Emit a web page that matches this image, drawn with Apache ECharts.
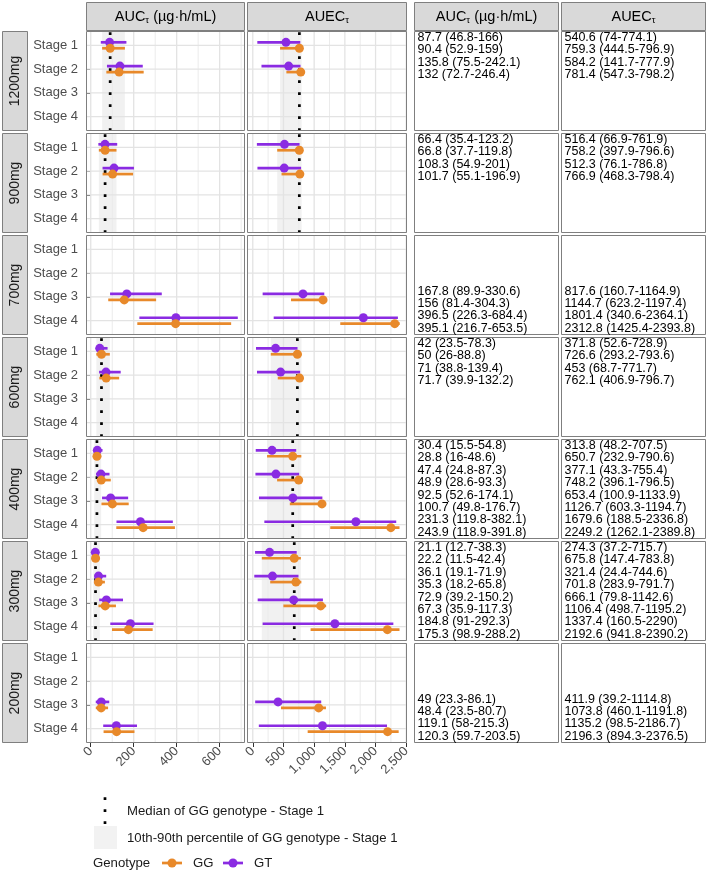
<!DOCTYPE html>
<html><head><meta charset="utf-8">
<script src="https://cdn.jsdelivr.net/npm/echarts@6/dist/echarts.min.js"></script>
<style>html,body{margin:0;padding:0;background:#fff}#c{width:708px;height:871px}</style>
</head><body><div id="c"></div>
<script>
// ---------------- data ----------------
const doses = ['1200mg','900mg','700mg','600mg','400mg','300mg','200mg'];
const stages = ['Stage 1','Stage 2','Stage 3','Stage 4'];
const aucTicks = [0,200,400,600];
const aucMinor = [100,300,500,700];
const auecTicks = [0,500,1000,1500,2000,2500];
const auecMinor = [250,750,1250,1750,2250];

// [dose, stage, median, p10, p90]
const aucGT = [
  ['1200mg',1,87.7,46.8,166],['1200mg',2,135.8,75.5,242.1],
  ['900mg',1,66.4,35.4,123.2],['900mg',2,108.3,54.9,201],
  ['700mg',3,167.8,89.9,330.6],['700mg',4,396.5,226.3,684.4],
  ['600mg',1,42,23.5,78.3],['600mg',2,71,38.8,139.4],
  ['400mg',1,30.4,15.5,54.8],['400mg',2,47.4,24.8,87.3],['400mg',3,92.5,52.6,174.1],['400mg',4,231.3,119.8,382.1],
  ['300mg',1,21.1,12.7,38.3],['300mg',2,36.1,19.1,71.9],['300mg',3,72.9,39.2,150.2],['300mg',4,184.8,91,292.3],
  ['200mg',3,49,23.3,86.1],['200mg',4,119.1,58,215.3]
];
const aucGG = [
  ['1200mg',1,90.4,52.9,159],['1200mg',2,132,72.7,246.4],
  ['900mg',1,66.8,37.7,119.8],['900mg',2,101.7,55.1,196.9],
  ['700mg',3,156,81.4,304.3],['700mg',4,395.1,216.7,653.5],
  ['600mg',1,50,26,88.8],['600mg',2,71.7,39.9,132.2],
  ['400mg',1,28.8,16,48.6],['400mg',2,48.9,28.6,93.3],['400mg',3,100.7,49.8,176.7],['400mg',4,243.9,118.9,391.8],
  ['300mg',1,22.2,11.5,42.4],['300mg',2,35.3,18.2,65.8],['300mg',3,67.3,35.9,117.3],['300mg',4,175.3,98.9,288.2],
  ['200mg',3,48.4,23.5,80.7],['200mg',4,120.3,59.7,203.5]
];
const auecGT = [
  ['1200mg',1,540.6,74,774.1],['1200mg',2,584.2,141.7,777.9],
  ['900mg',1,516.4,66.9,761.9],['900mg',2,512.3,76.1,786.8],
  ['700mg',3,817.6,160.7,1164.9],['700mg',4,1801.4,340.6,2364.1],
  ['600mg',1,371.8,52.6,728.9],['600mg',2,453,68.7,771.7],
  ['400mg',1,313.8,48.2,707.5],['400mg',2,377.1,43.3,755.4],['400mg',3,653.4,100.9,1133.9],['400mg',4,1679.6,188.5,2336.8],
  ['300mg',1,274.3,37.2,715.7],['300mg',2,321.4,24.4,744.6],['300mg',3,666.1,79.8,1142.6],['300mg',4,1337.4,160.5,2290],
  ['200mg',3,411.9,39.2,1114.8],['200mg',4,1135.2,98.5,2186.7]
];
const auecGG = [
  ['1200mg',1,759.3,444.5,796.9],['1200mg',2,781.4,547.3,798.2],
  ['900mg',1,758.2,397.9,796.6],['900mg',2,766.9,468.3,798.4],
  ['700mg',3,1144.7,623.2,1197.4],['700mg',4,2312.8,1425.4,2393.8],
  ['600mg',1,726.6,293.2,793.6],['600mg',2,762.1,406.9,796.7],
  ['400mg',1,650.7,232.9,790.6],['400mg',2,748.2,396.1,796.5],['400mg',3,1126.7,603.3,1194.7],['400mg',4,2249.2,1262.1,2389.8],
  ['300mg',1,675.8,147.4,783.8],['300mg',2,701.8,283.9,791.7],['300mg',3,1106.4,498.7,1195.2],['300mg',4,2192.6,941.8,2390.2],
  ['200mg',3,1073.8,460.1,1191.8],['200mg',4,2196.3,894.3,2376.5]
];

// ---------------- layout / style ----------------
const FONT = '"Liberation Sans", Arial, Helvetica, sans-serif';
const COLORS = {GG:'#E8892A', GT:'#8A2BE2'};
const BORDER = '#7F7F7F', STRIP = '#D9D9D9';
const colLeft = [86, 247], colW = [159, 160];
const tabLeft = [414, 561], tabW = [145, 145];
const rowTop0 = 31, rowStep = 102, rowH = 100;
const Y_MIN = 0.4, Y_MAX = 4.6, DODGE = 0.125;
const fmt = v => String(v).replace(/\B(?=(\d{3})+(?!\d))/g, ',');

const metrics = [
  {gt:aucGT, gg:aucGG, min:-22.1, max:718.0, ticks:aucTicks, minor:aucMinor,
   title:'{n|AUC}{s|τ}{n| (µg·h/mL)}'},
  {gt:auecGT, gg:auecGG, min:-94.07, max:2512.27, ticks:auecTicks, minor:auecMinor,
   title:'{n|AUEC}{s|τ}'}
];

const grids = [], xAxes = [], yAxes = [], series = [];

function segSeries(gi, z, data, styleFn) {
  return {type:'custom', xAxisIndex:gi, yAxisIndex:gi, z:z, silent:true, clip:false,
    data:data, encode:{x:[0,2], y:[1,3]},
    renderItem:(p, api) => {
      const a = api.coord([api.value(0), api.value(1)]);
      const b = api.coord([api.value(2), api.value(3)]);
      return {type:'line', shape:{x1:a[0],y1:a[1],x2:b[0],y2:b[1]}, style:styleFn(api)};
    }};
}

doses.forEach((dose, r) => {
  const top = rowTop0 + r*rowStep;
  metrics.forEach((m, c) => {
    const gi = r*2 + c;
    const bottom = (r === doses.length-1);
    grids.push({left:colLeft[c], top:top, width:colW[c], height:rowH, show:true,
      backgroundColor:'#fff', borderWidth:0});
    xAxes.push({type:'value', gridIndex:gi, min:m.min, max:m.max,
      axisLine:{show:false}, splitLine:{show:false},
      axisTick:{show:bottom, customValues:m.ticks, length:4, lineStyle:{color:'#333'}},
      axisLabel:{show:bottom, customValues:m.ticks, rotate:45, formatter:v=>fmt(v),
        fontSize:13, color:'#4D4D4D', fontFamily:FONT, margin:6}});
    yAxes.push({type:'value', gridIndex:gi, min:Y_MIN, max:Y_MAX, inverse:true,
      axisLine:{show:false}, splitLine:{show:false},
      axisTick:{show:c===0, customValues:[1,2,3,4], length:4, lineStyle:{color:'#333'}},
      axisLabel:{show:c===0, customValues:[1,2,3,4], formatter:v=>stages[Math.round(v)-1],
        fontSize:13, color:'#4D4D4D', fontFamily:FONT, margin:8}});

    // reference band (GG stage 1, 10th-90th percentile)
    const ref = m.gg.find(d => d[0]===dose && d[1]===1);
    if (ref) {
      series.push({type:'custom', xAxisIndex:gi, yAxisIndex:gi, z:3, silent:true, clip:false,
        data:[[ref[3], Y_MIN, ref[4], Y_MAX]], encode:{x:[0,2], y:[1,3]},
        renderItem:(p, api) => {
          const a = api.coord([api.value(0), api.value(1)]);
          const b = api.coord([api.value(2), api.value(3)]);
          return {type:'rect', shape:{x:a[0], y:Math.min(a[1],b[1]), width:b[0]-a[0], height:Math.abs(b[1]-a[1])},
              style:{fill:'rgba(190,190,190,0.22)'}};
        }});
    }
    // grid lines
    series.push(segSeries(gi, 3.1, m.minor.map(v => [v, Y_MIN, v, Y_MAX]),
      () => ({stroke:'#EBEBEB', lineWidth:1})));
    const major = m.ticks.map(v => [v, Y_MIN, v, Y_MAX])
      .concat(stages.map((s, i) => [m.min, i+1, m.max, i+1]));
    series.push(segSeries(gi, 3.2, major, () => ({stroke:'#E3E3E3', lineWidth:1.3})));

    // median of GG stage 1 (dotted)
    if (ref) {
      series.push(segSeries(gi, 3.5, [[ref[2], Y_MAX, ref[2], Y_MIN]],
        () => ({stroke:'#000', lineWidth:2.7, lineDash:[2.7,9.3], lineCap:'butt'})));
    }

    // error bars and points
    [['GT', m.gt, -DODGE], ['GG', m.gg, DODGE]].forEach(([g, arr, off]) => {
      const rows = arr.filter(d => d[0]===dose);
      series.push(segSeries(gi, 4, rows.map(d => [d[3], d[1]+off, d[4], d[1]+off]),
        () => ({stroke:COLORS[g], lineWidth:2.7, lineCap:'butt'})));
      series.push({type:'scatter', xAxisIndex:gi, yAxisIndex:gi, z:5, silent:true,
        symbol:'circle', symbolSize:9, itemStyle:{color:COLORS[g], opacity:1},
        data: rows.map(d => [d[2], d[1]+off])});
    });
  });
});

// ---------------- graphic: strips, borders, tables, legend ----------------
const gr = [];
const richHead = {
  n:{fontSize:14.5, fontFamily:FONT, color:'#1A1A1A', lineHeight:17},
  s:{fontSize:9.5, fontFamily:FONT, color:'#1A1A1A', lineHeight:10, verticalAlign:'bottom'}
};
function header(x, w, text) {
  gr.push({type:'rect', shape:{x:x+0.5, y:2.5, width:w-1, height:28}, style:{fill:STRIP, stroke:BORDER, lineWidth:1}});
  gr.push({type:'text', x:x+w/2, y:16.5, style:{text:text, rich:richHead, align:'center', verticalAlign:'middle'}});
}
metrics.forEach((m,c) => header(colLeft[c], colW[c], m.title));
metrics.forEach((m,c) => header(tabLeft[c], tabW[c], m.title));

doses.forEach((dose, r) => {
  const top = rowTop0 + r*rowStep;
  gr.push({type:'rect', shape:{x:2.5, y:top+0.5, width:25, height:rowH-1}, style:{fill:STRIP, stroke:BORDER, lineWidth:1}});
  gr.push({type:'text', x:15.5, y:top+rowH/2, rotation:Math.PI/2,
    style:{text:dose, fontSize:14, fontFamily:FONT, fill:'#1A1A1A', align:'center', verticalAlign:'middle'}});
  metrics.forEach((m, c) => {
    // plot panel border (on top of series)
    gr.push({type:'rect', z:50, silent:true, shape:{x:colLeft[c]+0.5, y:top+0.5, width:colW[c]-1, height:rowH-1},
      style:{fill:'none', stroke:BORDER, lineWidth:1}});
    // table cell
    gr.push({type:'rect', shape:{x:tabLeft[c]+0.5, y:top+0.5, width:tabW[c]-1, height:rowH-1},
      style:{fill:'#fff', stroke:BORDER, lineWidth:1}});
    [['GT', m.gt, 0], ['GG', m.gg, 1]].forEach(([g, arr, k]) => {
      arr.filter(d => d[0]===dose).forEach(d => {
        const slot = (d[1]-1)*2 + k;
        gr.push({type:'text', x:tabLeft[c]+3.5, y:top + 6.5 + slot*12.4,
          style:{text: d[2] + ' (' + d[3] + '-' + d[4] + ')', fontSize:12.5, fontFamily:FONT,
            fill:'#000', align:'left', verticalAlign:'middle'}});
      });
    });
  });
});

// legend
gr.push({type:'line', shape:{x1:105, y1:824, x2:105, y2:797},
  style:{stroke:'#000', lineWidth:2.7, lineDash:[2.7,9.3], lineCap:'butt'}});
gr.push({type:'text', x:127, y:811.5, style:{text:'Median of GG genotype - Stage 1', fontSize:13.2, fontFamily:FONT, fill:'#1A1A1A', verticalAlign:'middle'}});
gr.push({type:'rect', shape:{x:94, y:826, width:23, height:23}, style:{fill:'#F2F2F2'}});
gr.push({type:'text', x:127, y:838, style:{text:'10th-90th percentile of GG genotype - Stage 1', fontSize:13.2, fontFamily:FONT, fill:'#1A1A1A', verticalAlign:'middle'}});
gr.push({type:'text', x:93, y:863, style:{text:'Genotype', fontSize:13.2, fontFamily:FONT, fill:'#1A1A1A', verticalAlign:'middle'}});
[['GG',162],['GT',223]].forEach(([g,x]) => {
  gr.push({type:'line', shape:{x1:x, y1:863, x2:x+20, y2:863}, style:{stroke:COLORS[g], lineWidth:2.7}});
  gr.push({type:'circle', shape:{cx:x+10, cy:863, r:4.5}, style:{fill:COLORS[g]}});
  gr.push({type:'text', x:x+31, y:863, style:{text:g, fontSize:13.2, fontFamily:FONT, fill:'#1A1A1A', verticalAlign:'middle'}});
});

const chart = echarts.init(document.getElementById('c'));
chart.setOption({
  animation:false,
  backgroundColor:'#fff',
  textStyle:{fontFamily:FONT},
  grid:grids, xAxis:xAxes, yAxis:yAxes, series:series,
  graphic:{elements:gr}
});
</script>
</body></html>
